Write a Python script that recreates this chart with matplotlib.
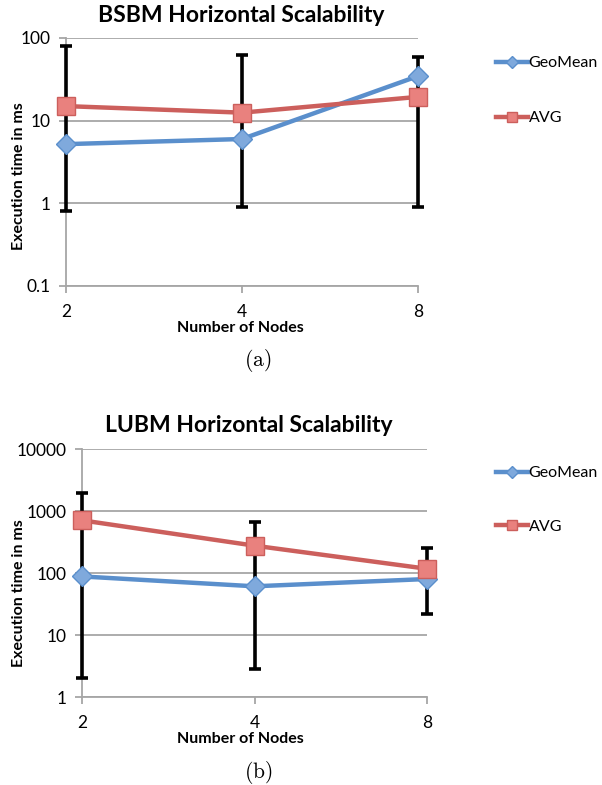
import matplotlib
matplotlib.use("Agg")
import matplotlib.pyplot as plt
from matplotlib.ticker import FixedLocator, FixedFormatter, NullLocator

plt.rcParams['font.family'] = ['Lato', 'DejaVu Sans']
plt.rcParams['mathtext.fontset'] = 'cm'

nodes = ["2", "4", "8"]

bsbm_geomean = [5.2, 6.0, 34.6]
bsbm_avg = [15.0, 12.5, 19.4]
bsbm_err_low = [0.8, 0.9, 0.9]
bsbm_err_high = [81.0, 62.0, 59.0]
bsbm_yticks = [0.1, 1, 10, 100]
bsbm_yticklabels = ["0.1", "1", "10", "100"]

lubm_geomean = [88.0, 61.0, 80.0]
lubm_avg = [707.0, 276.0, 117.0]
lubm_err_low = [2.0, 2.8, 22.0]
lubm_err_high = [1950.0, 665.0, 250.0]
lubm_yticks = [1, 10, 100, 1000, 10000]
lubm_yticklabels = ["1", "10", "100", "1000", "10000"]

BLUE = "#5A8FCC"
BLUE_FILL = "#7FA9DC"
RED = "#CC5F5C"
RED_FILL = "#E9817E"
GRID = "#A6A6A6"

W, H = 602, 785
fig = plt.figure(figsize=(W / 100, H / 100), dpi=100)


def px_axes(left, top, right, bottom):
    return fig.add_axes([left / W, 1 - bottom / H, (right - left) / W, (bottom - top) / H])


def draw(ax, geo, avg, lo, hi, yticks, yticklabels, ylim, title, title_xy, ylabel_xy,
         xlabel_y, cap, cap_y, leg_y):
    x = list(range(len(nodes)))
    ax.set_yscale('log')
    ax.set_ylim(*ylim)
    ax.set_xlim(0, len(nodes) - 1)
    ax.yaxis.set_major_locator(FixedLocator(yticks))
    ax.yaxis.set_major_formatter(FixedFormatter(yticklabels))
    ax.yaxis.set_minor_locator(NullLocator())
    ax.set_xticks(x)
    ax.set_xticklabels(nodes)
    for s in ['top', 'right']:
        ax.spines[s].set_visible(False)
    for s in ['left', 'bottom']:
        ax.spines[s].set_color(GRID)
        ax.spines[s].set_linewidth(1.3)
    ax.grid(axis='y', color=GRID, linewidth=1.3)
    ax.set_axisbelow(True)
    ax.tick_params(axis='both', colors=GRID, length=5, width=1.3, labelcolor='black',
                   labelsize=12.5)
    ax.tick_params(axis='x', pad=8)
    ax.tick_params(axis='y', pad=6)

    yerr = [[a - l for a, l in zip(avg, lo)], [h - a for a, h in zip(avg, hi)]]
    ax.errorbar(x, avg, yerr=yerr, fmt='none', ecolor='black', elinewidth=2.6,
                capsize=4, capthick=2.6, zorder=3, clip_on=False)
    lg, = ax.plot(x, geo, color=BLUE, lw=3.2, marker='D', ms=10, mfc=BLUE_FILL,
                  mec=BLUE, mew=1, zorder=4, clip_on=False, label='GeoMean')
    la, = ax.plot(x, avg, color=RED, lw=3.2, marker='s', ms=13, mfc=RED_FILL,
                  mec=RED, mew=1, zorder=5, clip_on=False, label='AVG')

    fig.text(title_xy[0] / W, 1 - title_xy[1] / H, title, ha='center', va='center',
             fontsize=16.5, fontweight='bold')
    fig.text(ylabel_xy[0] / W, 1 - ylabel_xy[1] / H, "Execution time in ms", rotation=90,
             ha='center', va='center', fontsize=11.5, fontweight='bold')
    fig.text(240 / W, 1 - xlabel_y / H, "Number of Nodes", ha='center', va='center',
             fontsize=11.5, fontweight='bold')
    fig.text(258 / W, 1 - cap_y / H, r"$\mathrm{(%s)}$" % cap, ha='center', va='center',
             fontsize=15.5)

    for line, y in zip([lg, la], leg_y):
        fig.legend(handles=[line], loc='center left',
                   bbox_to_anchor=(496 / W, 1 - y / H), frameon=False, fontsize=11.5,
                   handlelength=2.0, handletextpad=0.05, markerscale=0.6,
                   borderpad=0, borderaxespad=0)


ax1 = px_axes(66, 38, 418, 286)
draw(ax1, bsbm_geomean, bsbm_avg, bsbm_err_low, bsbm_err_high, bsbm_yticks,
     bsbm_yticklabels, (0.1, 100), "BSBM Horizontal Scalability", (241, 15), (19, 176),
     328, "a", 360, (63, 118))

ax2 = px_axes(82, 449, 427, 697)
draw(ax2, lubm_geomean, lubm_avg, lubm_err_low, lubm_err_high, lubm_yticks,
     lubm_yticklabels, (1, 10000), "LUBM Horizontal Scalability", (249, 425), (19, 593),
     739, "b", 773, (473, 527))

fig.savefig("out.png", dpi=100)
